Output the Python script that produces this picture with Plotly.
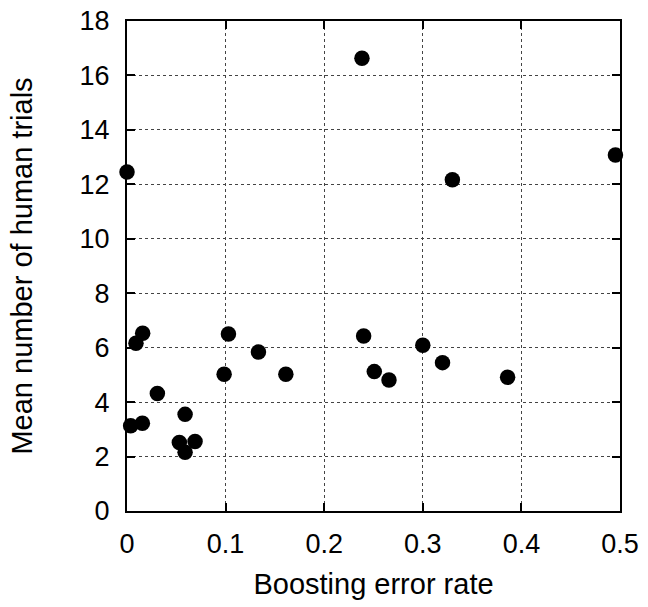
import plotly.graph_objects as go

error_rate = [0.0, 0.2383, 0.4954, 0.330, 0.0037, 0.0156, 0.0091, 0.0159, 0.0308,
              0.0589, 0.0531, 0.0589, 0.069, 0.0985, 0.1029, 0.1333, 0.1611,
              0.240, 0.2508, 0.2657, 0.300, 0.320, 0.386]
mean_trials = [12.45, 16.63, 13.08, 12.17, 3.13, 3.22, 6.16, 6.53, 4.32,
               3.55, 2.52, 2.16, 2.55, 5.02, 6.50, 5.84, 5.02,
               6.43, 5.12, 4.81, 6.09, 5.45, 4.91]

x_ticks = [0, 0.1, 0.2, 0.3, 0.4, 0.5]
x_ticklabels = ["0", "0.1", "0.2", "0.3", "0.4", "0.5"]
y_ticks = [0, 2, 4, 6, 8, 10, 12, 14, 16, 18]

font = "Liberation Sans, Arial, Helvetica, sans-serif"

fig = go.Figure()
fig.add_trace(go.Scatter(
    x=error_rate, y=mean_trials, mode="markers",
    marker=dict(color="black", size=15.5, line=dict(width=0)),
    cliponaxis=False, showlegend=False,
))

axis_common = dict(
    showline=True, linecolor="black", linewidth=2, mirror="ticks",
    ticks="inside", ticklen=8, tickwidth=1.5, tickcolor="black",
    showgrid=True, gridcolor="#444", gridwidth=1, griddash="dot",
    zeroline=False, tickfont=dict(family=font, size=27, color="black"),
    automargin=False, ticklabeloverflow="allow",
)

fig.update_layout(
    width=648, height=607,
    margin=dict(l=127, r=28, t=21, b=96),
    paper_bgcolor="white", plot_bgcolor="white",
    font=dict(family=font, color="black"),
    xaxis=dict(range=[0, 0.5], tickvals=x_ticks, ticktext=x_ticklabels,
               title=dict(text="Boosting error rate", font=dict(size=29), standoff=15),
               ticklabelstandoff=8, **axis_common),
    yaxis=dict(range=[0, 18], tickvals=y_ticks,
               title=dict(text="Mean number of human trials", font=dict(size=29), standoff=38),
               ticklabelstandoff=10, **axis_common),
)

fig.write_html("out.html", config={"displayModeBar": False},
               post_script="document.body.style.margin='0px';")
